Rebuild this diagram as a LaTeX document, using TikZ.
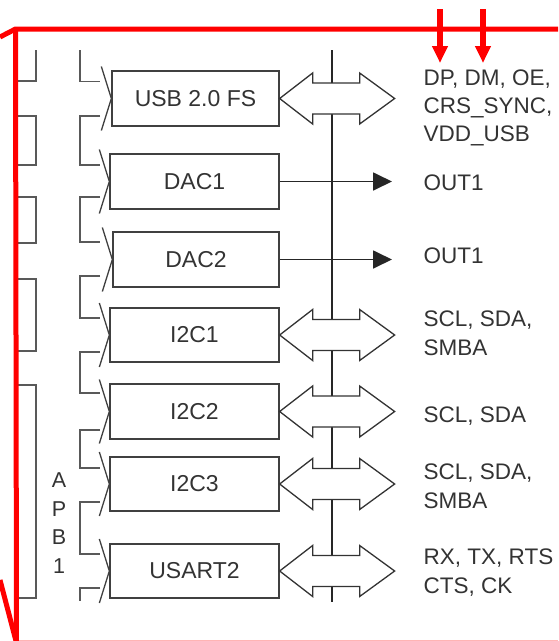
\documentclass[tikz,border=0pt]{standalone}
\usepackage{fontspec}
\setmainfont{Liberation Sans}
\usetikzlibrary{arrows.meta,calc}
\definecolor{txt}{HTML}{333333}
\definecolor{pinkline}{HTML}{FFB4B4}
\begin{document}
\begin{tikzpicture}[x=1pt,y=-1pt,
  box/.style={draw=black!75, line width=1.3pt, minimum height=55pt, inner sep=0pt,
    font=\fontsize{23}{27}\selectfont, text=txt},
  lbl/.style={anchor=base west, inner sep=0pt, align=left,
    font=\fontsize{22.5}{28.3}\selectfont, text=txt},
  brk/.style={draw=black!65, line width=1.3pt},
  chev/.style={draw=black!75, line width=1.3pt},
  bus/.style={draw=black!85, line width=2pt},
  dbl/.style={draw=black!80, line width=1.3pt, fill=white, line join=miter},
  sarr/.style={draw=black!85, line width=1.8pt, -{Triangle[length=19pt,width=18pt]}},
  redl/.style={draw=red, line width=5pt, line join=miter},
  redarr/.style={draw=red, line width=5.5pt, -{Triangle[length=17pt,width=15pt]}}]
\useasboundingbox (0,0) rectangle (558,641);

% left column (clipped blocks)
\draw[brk] (36,50) -- (36,81) -- (14,81);
\foreach \a/\b in {116/165,197/243,279/351,385/598}
  \draw[brk] (14,\a) -- (36,\a) -- (36,\b) -- (14,\b);

% APB1 bus brackets
\draw[brk] (80,50) -- (80,81.5) -- (100,81.5);
\foreach \a/\b in {116/165,197/242,276/318,352/393,430/468,502/554}
  \draw[brk] (100,\a) -- (80,\a) -- (80,\b) -- (100,\b);
\draw[brk] (100,588) -- (80,588) -- (80,601);

% vertical bus
\coordinate (bustop) at (332,50);
\coordinate (busbot) at (332,602);
\draw[bus] (bustop) -- (busbot);

% peripheral boxes
\node[box, minimum width=167pt] (usb)   at (195.5,98.5) {USB 2.0 FS};
\node[box, minimum width=169pt] (dac1)  at (194.5,181.5) {DAC1};
\node[box, minimum width=166pt] (dac2)  at (196,259.5) {DAC2};
\node[box, minimum width=169pt, minimum height=54pt] (i2ca)  at (194.5,335) {I2C1};
\node[box, minimum width=169pt] (i2cb)  at (194.5,411.5) {I2C2};
\node[box, minimum width=169pt, minimum height=54pt] (i2cc)  at (194.5,484) {I2C3};
\node[box, minimum width=169pt, minimum height=54pt] (usart) at (194.5,571) {USART2};

% chevrons
\foreach \n in {usb,dac1,dac2,i2ca,i2cb,i2cc,usart}
  \draw[chev] ($(\n.west)+(-10,-32)$) -- (\n.west) -- ($(\n.west)+(-10,32)$);

% double arrows
\foreach \n in {usb,i2ca,i2cb,i2cc,usart}
  \draw[dbl] (\n.east) -- ++(33,-25.5) -- ++(0,10) -- ++(47,0) -- ++(0,-10)
    -- ++(35,25.5) -- ++(-35,25.5) -- ++(0,-10) -- ++(-47,0) -- ++(0,10) -- cycle;

% single arrows
\coordinate (o1) at (392,181.5);
\coordinate (o2) at (392,259.5);
\draw[sarr] (dac1.east) -- (o1);
\draw[sarr] (dac2.east) -- (o2);

% labels (base = baseline of last line)
\node[lbl] (lusb) at (423.5,141.7) {DP, DM, OE,\\CRS\_SYNC,\\VDD\_USB};
\node[lbl] (lout1) at (423.5,190) {OUT1};
\node[lbl] (lout2) at (423.5,263) {OUT1};
\node[lbl] (li2ca) at (423.5,355) {SCL, SDA,\\SMBA};
\node[lbl] (li2cb) at (423.5,422) {SCL, SDA};
\node[lbl] (li2cc) at (423.5,508) {SCL, SDA,\\SMBA};
\node[lbl] (lusart) at (423.5,593) {RX, TX, RTS\\CTS, CK};
\node[anchor=base, inner sep=0pt, align=center, text=txt,
  font=\fontsize{21.5}{28.4}\selectfont] (apb) at (59,573) {A\\P\\B\\1};

% red frame
\draw[redl] (0,37) -- (15.5,29) -- (558,29);
\draw[redl] (15.5,29) -- (16.5,641);
\draw[redl] (0,580) -- (16,641);
\draw[pinkline, line width=2pt] (19,640.5) -- (558,640.5);
\coordinate (r1s) at (440,9);
\coordinate (r1e) at (440,63);
\coordinate (r2s) at (483,9);
\coordinate (r2e) at (483,63);
\draw[redarr] (r1s) -- (r1e);
\draw[redarr] (r2s) -- (r2e);
\end{tikzpicture}
\end{document}
